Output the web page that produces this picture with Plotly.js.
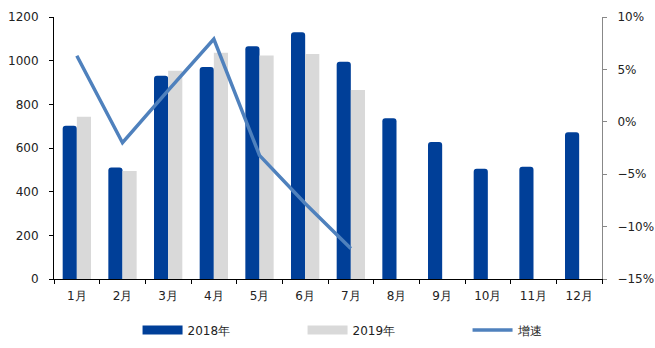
<!DOCTYPE html>
<html><head><meta charset="utf-8">
<script src="https://cdn.plot.ly/plotly-3.0.1.min.js"></script>
<style>html,body{margin:0;padding:0;background:#fff}#c{width:655px;height:348px}</style>
</head><body><div id="c"></div>
<script>
const months = ['1月','2月','3月','4月','5月','6月','7月','8月','9月','10月','11月','12月'];
const v2018 = [702, 511, 931, 971, 1066, 1130, 995, 736, 627, 505, 514, 672];
const months2019 = ['1月','2月','3月','4月','5月','6月','7月'];
const v2019 = [743, 495, 954, 1036, 1024, 1030, 866];
const growth = [6.3, -2.0, 3.0, 7.9, -3.2, -7.8, -12.1];
const seriesNames = ['2018年','2019年','增速'];
const colors = ['#003F98','#D9D9D9','#4F81BD'];
const font = {family: 'DejaVu Sans, Verdana, sans-serif', size: 12, color: '#222'};
const data = [
  {type:'bar', x: months, y: v2018, name:seriesNames[0], marker:{color:colors[0], cornerradius:3}, showlegend:false},
  {type:'bar', x: months2019, y: v2019, name:seriesNames[1], marker:{color:colors[1]}, showlegend:false},
  {type:'scatter', mode:'lines', x: months2019, y: growth.map(g=>g/100), name:seriesNames[2], yaxis:'y2',
   line:{color:colors[2], width:3.5}, showlegend:false},
  // legend-only swatches
  {type:'scatter', mode:'lines', x:[null], y:[null], name:seriesNames[0], line:{color:colors[0], width:9}},
  {type:'scatter', mode:'lines', x:[null], y:[null], name:seriesNames[1], line:{color:colors[1], width:9}},
  {type:'scatter', mode:'lines', x:[null], y:[null], name:seriesNames[2], line:{color:colors[2], width:3.5}}
];
const layout = {
  width:655, height:348, margin:{l:54, r:53, t:17, b:69, autoexpand:false},
  paper_bgcolor:'#fff', plot_bgcolor:'#fff', font: font,
  barmode:'group', bargap:0.38, bargroupgap:0,
  showlegend:true,
  legend:{orientation:'h', xref:'container', yref:'container', x:0.21, xanchor:'left', y:0.052, yanchor:'middle',
    entrywidth:110, entrywidthmode:'pixels', font:font, itemwidth:40, traceorder:'normal', bgcolor:'rgba(0,0,0,0)'},
  xaxis:{type:'category', categoryarray: months, showline:true, linecolor:'#000', linewidth:1,
    ticks:'outside', ticklen:4, tickcolor:'#000', tickson:'boundaries', showgrid:false, tickfont:font, ticklabelstandoff:6},
  yaxis:{range:[0,1200], dtick:200, showline:true, linecolor:'#000', linewidth:1, ticks:'outside',
    ticklen:4, tickcolor:'#000', showgrid:false, zeroline:false, tickfont:font, ticklabelstandoff:8},
  yaxis2:{overlaying:'y', side:'right', range:[-0.15,0.10], dtick:0.05, tickformat:'.0%',
    showline:true, linecolor:'#888', linewidth:1, ticks:'outside', ticklen:4, tickcolor:'#888',
    showgrid:false, zeroline:false, tickfont:font, ticklabelstandoff:8}
};
Plotly.newPlot('c', data, layout, {displayModeBar:false, staticPlot:true});
</script></body></html>
